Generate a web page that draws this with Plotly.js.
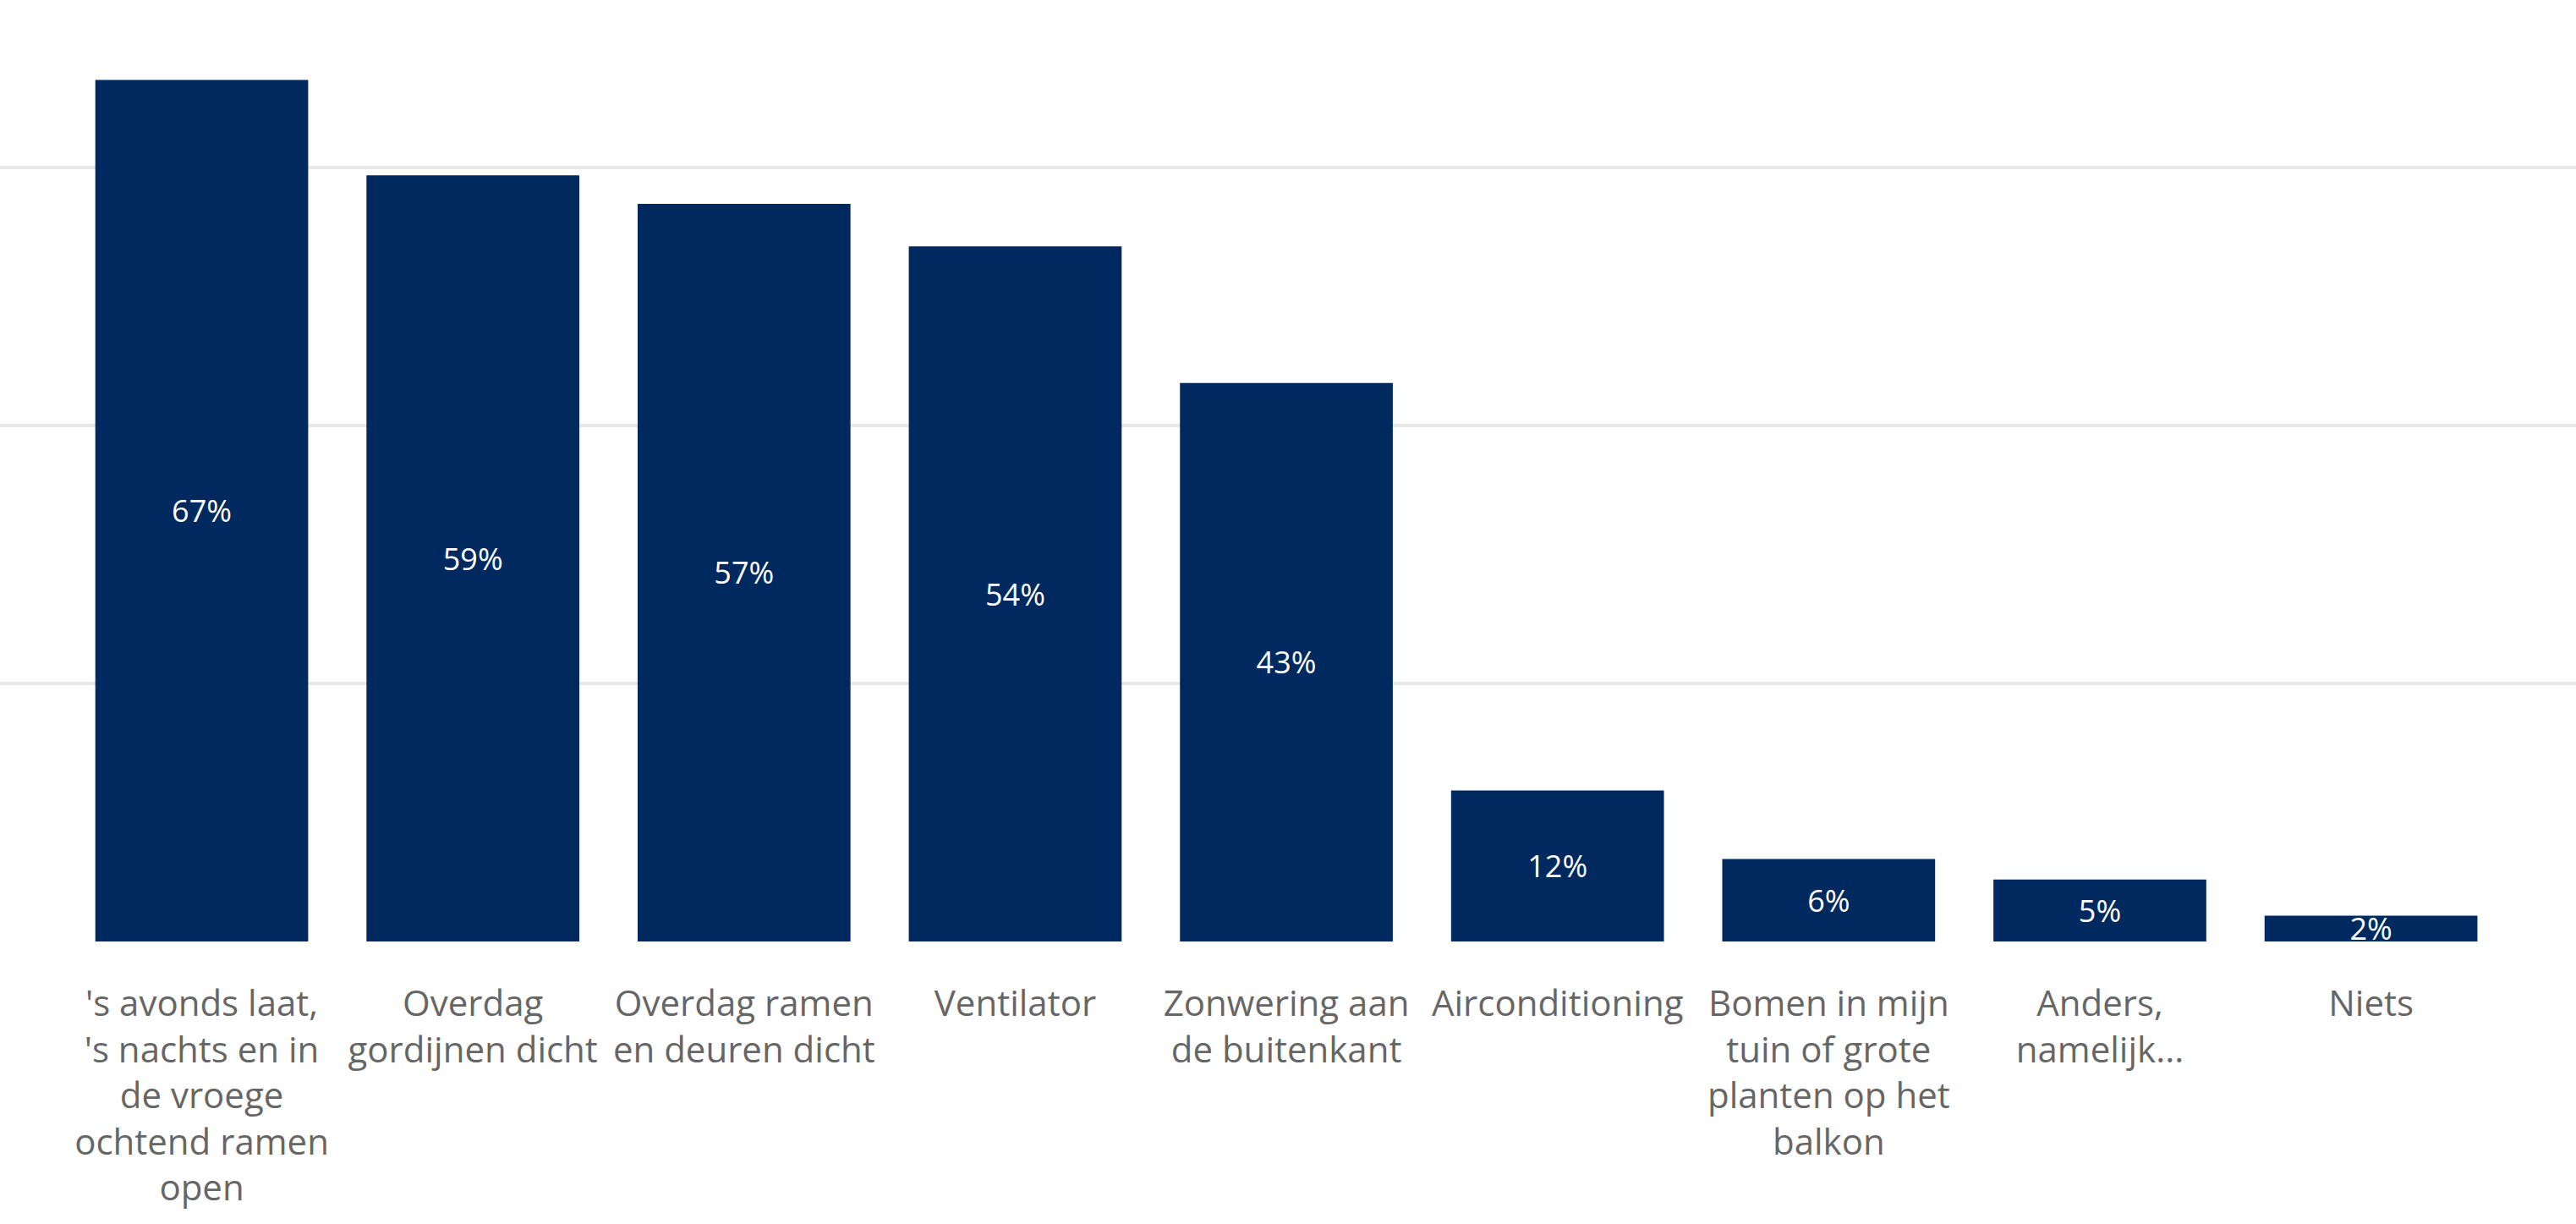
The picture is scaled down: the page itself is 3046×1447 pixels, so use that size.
<!DOCTYPE html>
<html>
<head>
<meta charset="utf-8">
<script src="https://cdn.plot.ly/plotly-3.0.1.min.js"></script>
<style>html,body{margin:0;padding:0;background:#fff;}#chart{width:3046px;height:1447px;}</style>
</head>
<body>
<div id="chart"></div>
<script>
const categories = [
  "'s avonds laat,<br>'s nachts en in<br>de vroege<br>ochtend ramen<br>open",
  "Overdag<br>gordijnen dicht",
  "Overdag ramen<br>en deuren dicht",
  "Ventilator",
  "Zonwering aan<br>de buitenkant",
  "Airconditioning",
  "Bomen in mijn<br>tuin of grote<br>planten op het<br>balkon",
  "Anders,<br>namelijk...",
  "Niets"
];
const values = [66.8, 59.4, 57.2, 53.9, 43.3, 11.7, 6.4, 4.8, 2.0];
const valueLabels = ["67%", "59%", "57%", "54%", "43%", "12%", "6%", "5%", "2%"];

const trace = {
  type: 'bar',
  x: categories,
  y: values,
  text: valueLabels,
  textposition: 'inside',
  insidetextanchor: 'middle',
  constraintext: 'none',
  textangle: 0,
  cliponaxis: true,
  textfont: {family: 'Open Sans, sans-serif', size: 36, color: '#ffffff'},
  marker: {color: '#002960'},
  hoverinfo: 'skip'
};

const layout = {
  width: 3046,
  height: 1447,
  margin: {l: 0, r: 0, t: 0, b: 334},
  paper_bgcolor: '#ffffff',
  plot_bgcolor: '#ffffff',
  bargap: 0.215,
  showlegend: false,
  font: {family: 'Open Sans, sans-serif'},
  xaxis: {
    type: 'category',
    range: [-0.744, 8.756],
    showgrid: false,
    zeroline: false,
    showline: false,
    ticks: '',
    ticklabelstandoff: 45,
    tickfont: {family: 'Open Sans, sans-serif', size: 42, color: '#666666'},
    fixedrange: true
  },
  yaxis: {
    range: [0, 73],
    dtick: 20,
    tick0: 0,
    showgrid: true,
    gridcolor: '#e8e8e8',
    gridwidth: 4,
    zeroline: false,
    showline: false,
    showticklabels: false,
    ticks: '',
    fixedrange: true
  }
};

Plotly.newPlot('chart', [trace], layout, {displayModeBar: false, staticPlot: true});
</script>
</body>
</html>
